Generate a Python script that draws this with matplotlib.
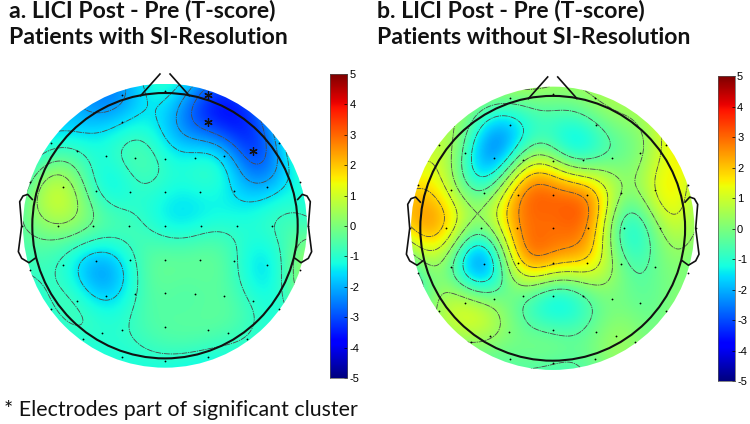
import numpy as np
import matplotlib
matplotlib.use("Agg")
import matplotlib.pyplot as plt
from matplotlib.patches import Circle

W, H = 750, 424

# Electrode layout in head-radius units
side_x = [
    [-0.322, 0.0, 0.322],
    [-0.325, 0.325],
    [-0.859, -0.661, -0.447, -0.226, 0.0, 0.226, 0.447, 0.661, 0.859],
    [-1.02, -0.771, -0.518, -0.261, 0.0, 0.261, 0.518, 0.771, 1.02],
    [-1.08, -0.809, -0.540, -0.269, 0.0, 0.269, 0.540, 0.809, 1.08],
    [-1.02, -0.771, -0.518, -0.261, 0.0, 0.261, 0.518, 0.771, 1.02],
    [-0.859, -0.661, -0.447, -0.226, 0.0, 0.226, 0.447, 0.661, 0.859],
    [-0.62, -0.477, -0.327, 0.0, 0.327, 0.477, 0.62],
    [-0.322, 0.0, 0.322],
]
side_y = [
    [0.985, 1.015, 0.985],
    [0.781, 0.781],
    [0.626, 0.565, 0.528, 0.513, 0.505, 0.513, 0.528, 0.565, 0.626],
    [0.329, 0.289, 0.264, 0.254, 0.254, 0.254, 0.264, 0.289, 0.329],
    [0.0] * 9,
    [-0.334, -0.294, -0.269, -0.261, -0.261, -0.261, -0.269, -0.294, -0.334],
    [-0.626, -0.565, -0.533, -0.513, -0.510, -0.513, -0.533, -0.565, -0.626],
    [-0.857, -0.812, -0.786, -0.766, -0.786, -0.812, -0.857],
    [-0.987, -1.018, -0.987],
]

# T-scores per electrode
values_a = [
    -2.2, -1.3, -3.0,
    -1.55, -3.1,
    -1.2, -0.9, -1.1, -0.7, -1.1, -1.35, -1.75, -3.1, -1.8,
    -0.4, 0.7, -0.85, -1.05, -1.15, -1.25, -1.55, -1.85, -1.2,
    -0.35, 0.2, -0.35, -0.75, -1.2, -1.1, -1.1, -0.9, -0.7,
    -0.85, -1.0, -1.85, -1.1, -0.35, -0.4, -0.75, -1.4, 0.1,
    -1.0, -0.95, -1.65, -0.9, -0.5, -0.45, -0.5, -0.95, -1.05,
    -1.05, -1.0, -1.0, -0.5, -0.5, -0.7, -0.95,
    -1.1, -1.05, -1.1,
]
values_b = [
    -0.1, 0.1, 0.3,
    -1.6, -0.5,
    0.7, -0.6, -2.0, 0.2, 0.6, -0.5, -0.1, 0.1, 1.3,
    1.7, 0.8, -0.3, 2.3, 2.8, 2.4, 0.2, 1.1, 1.0,
    1.7, 1.6, 0.0, 2.3, 2.9, 2.4, -0.7, 0.3, 0.3,
    -0.5, -0.2, -2.0, 1.6, 1.9, 1.6, -0.2, -0.25, 0.0,
    0.4, 0.6, 0.0, -0.3, -0.85, -0.5, 0.0, -0.3, 0.0,
    0.3, 0.4, 0.0, -0.5, -0.2, 0.35, 0.1,
    -0.3, -0.45, -0.1,
]
levels_a = [-2.7, -2.1, -1.5, -0.9, -0.3, 0.3]
levels_b = [-1.2, -0.45, 0.3, 1.05, 1.8, 2.55]
significant_x = [0.322, 0.325, 0.661]
significant_y = [0.985, 0.781, 0.565]
cbar_ticks = [-5, -4, -3, -2, -1, 0, 1, 2, 3, 4, 5]

title_a = "a. LICI Post - Pre (T-score)\nPatients with SI-Resolution"
title_b = "b. LICI Post - Pre (T-score)\nPatients without SI-Resolution"
footnote = "* Electrodes part of significant cluster"

ear_x = [-1.0, -1.035, -1.07, -1.095, -1.08, -1.105, -1.08, -1.025, -0.98]
ear_y = [0.198, 0.236, 0.224, 0.181, 0.0, -0.196, -0.246, -0.279, -0.246]
nose_x = [-0.183, -0.038]
nose_y = [0.98, 1.143]

ex = np.concatenate([np.array(r, float) for r in side_x])
ey = np.concatenate([np.array(r, float) for r in side_y])

DISC = 1.07
SIGMA = 0.27
RIDGE = 0.01
plt.rcParams["font.family"] = ["Liberation Sans", "DejaVu Sans"]
fig = plt.figure(figsize=(W / 100, H / 100), dpi=100)


def field(x, y, v, gx, gy):
    def g(r):
        return np.exp(-(r / SIGMA) ** 2 / 2)
    d = np.hypot(x[:, None] - x[None, :], y[:, None] - y[None, :])
    base = v.mean()
    w = np.linalg.solve(g(d) + RIDGE * np.eye(len(x)), v - base)
    dg = np.hypot(gx[..., None] - x, gy[..., None] - y)
    return base + (g(dg) * w).sum(axis=-1)


def head(cx, cy, r, vals, levels, stars=False):
    half = 1.25
    ax = fig.add_axes([(cx - half * r) / W, 1 - (cy + half * r) / H,
                       2 * half * r / W, 2 * half * r / H])
    ax.set_xlim(-half, half)
    ax.set_ylim(-half, half)
    ax.axis("off")
    g = np.linspace(-DISC, DISC, 400)
    gx, gy = np.meshgrid(g, g)
    z = field(ex, ey, np.array(vals, float), gx, gy)
    clip = Circle((0, 0), DISC, transform=ax.transData)
    im = ax.imshow(z, extent=(-DISC, DISC, -DISC, DISC), origin="lower",
                   cmap="jet", vmin=-5, vmax=5, interpolation="bilinear")
    im.set_clip_path(clip)
    cs = ax.contour(gx, gy, z, levels=levels, colors="#4a4a4a",
                    linewidths=0.6, linestyles=[(0, (7, 1, 1.5, 1))])
    cs.set_clip_path(clip)
    ax.plot(ex, ey, ls="", marker="o", ms=1.3, mfc="k", mec="k", mew=0, zorder=4)
    ax.add_patch(Circle((0, 0), 1.0, fill=False, ec="#111111", lw=1.5, zorder=5))
    for sgn in (-1, 1):
        ax.plot(sgn * np.array(ear_x), ear_y, color="#111111", lw=1.2, zorder=5)
        ax.plot(sgn * np.array(nose_x), nose_y, color="#111111", lw=1.2, zorder=5)
    if stars:
        ax.plot(significant_x, significant_y, ls="", marker=(6, 2, 0), ms=6,
                mec="#111111", mew=0.9, zorder=6)
    return ax


def cbar(x0, x1, y0, y1):
    ax = fig.add_axes([x0 / W, 1 - y1 / H, (x1 - x0) / W, (y1 - y0) / H])
    grad = np.linspace(-5, 5, 256)[:, None]
    ax.imshow(grad, aspect="auto", origin="lower", cmap="jet", vmin=-5, vmax=5,
              extent=(0, 1, -5, 5))
    ax.set_xticks([])
    ax.yaxis.tick_right()
    ax.set_yticks(cbar_ticks)
    ax.set_yticklabels([str(t) for t in cbar_ticks])
    ax.tick_params(axis="y", direction="in", length=2, width=0.5, labelsize=8, pad=1.5)
    for s in ax.spines.values():
        s.set_linewidth(0.5)
        s.set_color("#555555")
    return ax


head(165.0, 225.7, 132.7, values_a, levels_a, stars=True)
head(552.7, 228.3, 132.4, values_b, levels_b)
cbar(330, 347.3, 74, 378)
cbar(718, 735, 76, 381)

tkw = dict(family=["Lato", "DejaVu Sans"], fontweight="bold", fontsize=16.6,
           va="top", ha="left", linespacing=1.32, color="#111111")
fig.text(9 / W, 1 - 0 / H, title_a, **tkw)
fig.text(377 / W, 1 - 0 / H, title_b, **tkw)
fig.text(4 / W, 1 - 410 / H, footnote, family=["Lato", "DejaVu Sans"], fontsize=15.4,
         va="center", ha="left", color="#111111")

fig.savefig("out.png", dpi=100)
